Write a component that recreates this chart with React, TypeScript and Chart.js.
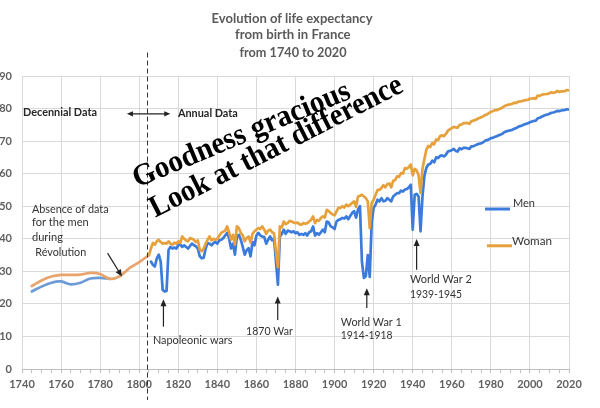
import React, { useEffect, useRef } from 'react';
import { Chart, registerables } from 'chart.js';
Chart.register(...registerables);

// ---------- DATA ----------
const decMenYears = [1745, 1750, 1755, 1760, 1765, 1770, 1775, 1780, 1785];
const decMenValues = [23.8, 25.3, 26.5, 26.9, 26.0, 26.5, 27.8, 28.0, 27.7];
const decWomenYears = [1745, 1750, 1755, 1760, 1765, 1770, 1775, 1780, 1785, 1790, 1795, 1800, 1805];
const decWomenValues = [25.5, 27.2, 28.4, 28.9, 28.9, 29.0, 29.5, 29.2, 27.7, 28.5, 31.0, 32.8, 35.0];

const MEN_ANNUAL_START = 1806;
const menAnnual = [
  33.0, 32.0, 31.5, 34.0,
  35.1, 33.0, 24.3, 23.8, 24.0, 36.5, 37.5, 37.0, 37.3, 37.0,
  38.0, 38.3, 37.5, 38.0, 37.5, 37.0, 37.8, 38.5, 38.0, 37.7,
  37.0, 34.6, 34.0, 34.2, 37.0, 38.7, 38.5, 38.0, 38.7, 39.0,
  38.5, 39.5, 39.7, 40.2, 41.0, 41.8, 40.2, 37.0, 38.5, 35.1,
  40.7, 41.2, 39.7, 37.5, 35.1, 36.5, 37.1, 34.6, 39.0, 38.0,
  41.0, 41.8, 41.0, 40.7, 40.5, 38.5, 39.7, 40.7, 39.5, 40.2,
  33.0, 25.9, 40.7, 41.5, 42.8, 41.5, 42.5, 42.3, 42.0, 42.3,
  41.7, 42.0, 41.2, 41.5, 41.2, 41.7, 41.0, 42.0, 42.3, 43.8,
  41.0, 41.7, 41.3, 42.0, 42.8, 42.0, 45.3, 45.0, 43.8, 43.5,
  43.0, 45.3, 45.8, 46.0, 46.4, 46.2, 46.9, 46.0, 47.0, 47.9,
  48.5, 46.5, 49.0, 50.0, 33.0, 28.0, 28.5, 35.0, 28.3, 45.0,
  49.5, 50.5, 52.0, 51.5, 52.5, 51.5, 51.7, 52.5, 52.0, 51.5,
  53.0, 53.5, 54.0, 54.0, 54.8, 54.5, 55.1, 55.3, 55.8, 56.6,
  42.8, 53.5, 53.8, 53.0, 42.3, 53.0, 59.5, 61.8, 62.8, 63.0,
  64.0, 63.5, 65.0, 64.8, 65.5, 65.6, 65.3, 65.8, 66.8, 67.0,
  67.2, 67.6, 67.0, 66.8, 67.8, 67.5, 67.9, 67.9, 67.8, 67.6,
  68.4, 68.4, 68.7, 69.0, 69.2, 69.3, 69.6, 70.1, 70.3, 70.5,
  70.9, 71.0, 71.3, 71.5, 71.8, 72.0, 72.3, 72.8, 73.0, 73.2,
  73.3, 73.5, 73.8, 74.0, 74.4, 74.6, 74.8, 75.1, 75.3, 75.5,
  75.8, 76.0, 76.2, 76.3, 77.0, 77.2, 77.5, 77.8, 78.0, 78.2,
  78.4, 78.7, 78.8, 79.0, 79.3, 79.2, 79.4, 79.5, 79.6, 79.8,
  79.7,
];

const WOMEN_ANNUAL_START = 1805;
const womenAnnual = [
  35.0, 37.0, 38.7, 38.2, 39.2,
  39.7, 39.0, 38.5, 38.7, 38.5, 39.2, 38.5, 38.2, 38.8, 38.5,
  39.2, 38.7, 40.7, 40.0, 39.5, 39.2, 40.2, 40.0, 39.7, 39.0,
  39.5, 36.6, 36.2, 37.0, 38.5, 39.7, 40.7, 39.5, 40.0, 39.7,
  40.0, 41.0, 41.8, 42.2, 42.5, 43.8, 42.0, 39.7, 41.2, 38.2,
  43.8, 43.3, 41.8, 41.0, 39.2, 40.2, 40.7, 38.8, 41.5, 42.3,
  42.8, 43.3, 43.0, 43.8, 42.8, 41.5, 42.5, 42.8, 42.0, 41.7,
  36.0, 31.3, 43.8, 43.5, 45.3, 44.5, 44.8, 45.5, 45.3, 45.0,
  44.8, 45.0, 44.5, 44.3, 44.8, 44.6, 44.8, 45.3, 45.8, 46.9,
  44.8, 45.8, 45.5, 46.4, 46.9, 46.5, 48.9, 48.5, 47.9, 47.5,
  47.2, 48.4, 49.5, 49.5, 50.0, 49.6, 50.5, 50.0, 50.5, 51.0,
  51.5, 49.8, 53.0, 53.2, 53.5, 53.0, 52.5, 51.5, 43.3, 51.0,
  52.0, 53.5, 55.0, 55.0, 55.6, 56.5, 55.8, 56.8, 57.0, 55.8,
  57.8, 58.0, 59.2, 59.0, 60.2, 60.0, 61.7, 61.5, 62.0, 62.8,
  59.5, 61.5, 61.0, 59.5, 54.0, 61.5, 64.5, 67.4, 68.5, 68.2,
  69.4, 69.0, 70.5, 70.3, 71.5, 71.8, 71.5, 72.2, 73.2, 73.6,
  74.0, 74.4, 74.2, 74.1, 75.0, 75.1, 75.5, 75.5, 75.6, 75.3,
  76.1, 76.3, 76.5, 76.8, 77.1, 77.3, 77.6, 78.0, 78.2, 78.6,
  79.0, 79.2, 79.5, 79.5, 79.8, 80.0, 80.3, 80.8, 81.0, 81.2,
  81.3, 81.5, 81.8, 81.7, 82.1, 82.2, 82.3, 82.5, 82.6, 82.7,
  83.0, 83.1, 83.2, 83.0, 84.0, 83.9, 84.2, 84.4, 84.4, 84.5,
  84.7, 85.0, 84.8, 85.0, 85.4, 85.1, 85.3, 85.3, 85.4, 85.7,
  85.6,
];

const X_MIN = 1740;
const X_MAX = 2020;
const Y_MIN = 0;
const Y_MAX = 90;

const TITLE_LINES = ['Evolution of life expectancy', 'from birth in France', 'from 1740 to 2020'];
const SERIES_NAMES = ['Men', 'Woman'];

// ---------- STYLE / ANNOTATIONS ----------
const BLUE = '#3b7bdc';
const ORANGE = '#e6a13c';
const BLUE_LIGHT = '#6d9bd6';
const ORANGE_LIGHT = '#e9a46c';
const TEXT = '#333333';
const AXIS_TEXT = '#5f5f5f';
const FONT = 'Lato, "Open Sans", sans-serif';

// [text, year, value, width]
const NOTES: [string, number, number, number][] = [
  ['Absence of data', 1745.1, 49.23, 76.6],
  ['for the men', 1745.1, 45.02, 56.7],
  ['during', 1745.1, 40.4, 31],
  ['Révolution', 1746.8, 35.9, 51],
  ['Napoleonic wars', 1807.0, 8.92, 79.6],
  ['1870 War', 1854.7, 11.78, 46.7],
  ['World War 1', 1903.2, 14.55, 61],
  ['1914-1918', 1903.2, 10.46, 51.6],
  ['World War 2', 1938.6, 27.6, 62],
  ['1939-1945', 1938.6, 23.08, 52],
];
// [x1, v1, x2, v2] arrow head at (x2, v2)
const ARROWS: [number, number, number, number][] = [
  [1783.8, 35.6, 1791.15, 28.4],
  [1812.4, 13.0, 1812.4, 21.45],
  [1870.9, 15.08, 1870.9, 22.25],
  [1916.5, 18.77, 1916.5, 24.83],
  [1942.0, 30.46, 1942.0, 39.9],
];

function fitText(ctx: CanvasRenderingContext2D, text: string, x: number, y: number, width: number, font: string, color: string, align: CanvasTextAlign = 'left') {
  ctx.save();
  ctx.font = font;
  ctx.fillStyle = color;
  ctx.textBaseline = 'middle';
  ctx.textAlign = align;
  const w = ctx.measureText(text).width || 1;
  ctx.translate(x, y);
  ctx.scale(width / w, 1);
  ctx.fillText(text, 0, 0);
  ctx.restore();
}

function arrowHead(ctx: CanvasRenderingContext2D, x1: number, y1: number, x2: number, y2: number, len = 7, half = 3) {
  const a = Math.atan2(y2 - y1, x2 - x1);
  ctx.beginPath();
  ctx.moveTo(x2, y2);
  ctx.lineTo(x2 - len * Math.cos(a) + half * Math.sin(a), y2 - len * Math.sin(a) - half * Math.cos(a));
  ctx.lineTo(x2 - len * Math.cos(a) - half * Math.sin(a), y2 - len * Math.sin(a) + half * Math.cos(a));
  ctx.closePath();
  ctx.fill();
}

const overlayPlugin = {
  id: 'overlay',
  afterDraw(chart: any) {
    const ctx: CanvasRenderingContext2D = chart.ctx;
    const xs = chart.scales.x;
    const ys = chart.scales.y;
    const px = (yr: number) => xs.getPixelForValue(yr);
    const py = (v: number) => ys.getPixelForValue(v);

    // title
    const titleW = [161, 115.7, 107];
    const titleX = [292, 292.8, 293];
    const titleY = [19, 35, 53];
    TITLE_LINES.forEach((t, i) => fitText(ctx, t, titleX[i], titleY[i], titleW[i], `bold 13px ${FONT}`, '#5a5a5a', 'center'));

    // dashed separator
    ctx.save();
    ctx.strokeStyle = '#333';
    ctx.lineWidth = 1;
    ctx.setLineDash([5, 3]);
    ctx.beginPath();
    ctx.moveTo(Math.round(px(1803.9)) + 0.5, py(97.2));
    ctx.lineTo(Math.round(px(1803.9)) + 0.5, py(-9.5));
    ctx.stroke();
    ctx.restore();

    // Decennial / Annual
    fitText(ctx, 'Decennial Data', px(1740.5), py(78.68), 74, `bold 11px ${FONT}`, '#262626');
    fitText(ctx, 'Annual Data', px(1819.8), py(78.46), 60, `bold 11px ${FONT}`, '#262626');
    ctx.save();
    ctx.strokeStyle = '#222';
    ctx.fillStyle = '#222';
    ctx.lineWidth = 1.2;
    const ax1 = px(1793.7), ax2 = px(1815.9), ay = py(78.37);
    ctx.beginPath();
    ctx.moveTo(ax1 + 3, ay);
    ctx.lineTo(ax2 - 3, ay);
    ctx.stroke();
    arrowHead(ctx, ax2, ay, ax1, ay, 6, 2.6);
    arrowHead(ctx, ax1, ay, ax2, ay, 6, 2.6);

    // annotation arrows
    ARROWS.forEach(([x1, v1, x2, v2]) => {
      const X1 = px(x1), Y1 = py(v1), X2 = px(x2), Y2 = py(v2);
      const a = Math.atan2(Y2 - Y1, X2 - X1);
      ctx.beginPath();
      ctx.moveTo(X1, Y1);
      ctx.lineTo(X2 - 5 * Math.cos(a), Y2 - 5 * Math.sin(a));
      ctx.stroke();
      arrowHead(ctx, X1, Y1, X2, Y2, 7, 3);
    });
    ctx.restore();

    // annotation text
    NOTES.forEach(([t, yr, v, w]) => fitText(ctx, t, px(yr), py(v), w, `12px ${FONT}`, TEXT));

    // legend
    ctx.save();
    ctx.lineWidth = 3;
    ctx.strokeStyle = BLUE;
    ctx.beginPath();
    ctx.moveTo(px(1977.0), py(49.14));
    ctx.lineTo(px(1989.8), py(49.14));
    ctx.stroke();
    ctx.strokeStyle = ORANGE;
    ctx.beginPath();
    ctx.moveTo(px(1978.0), py(37.85));
    ctx.lineTo(px(1990.8), py(37.85));
    ctx.stroke();
    ctx.restore();
    fitText(ctx, SERIES_NAMES[0], px(1991.3), py(51.08), 22, `12px ${FONT}`, TEXT);
    fitText(ctx, SERIES_NAMES[1], px(1990.8), py(39.17), 40, `12px ${FONT}`, TEXT);

    // rotated comment
    const rot: [string, number, number, number, number][] = [
      ['Goodness gracious', 1798.98, 55.69, -22.7, 233],
      ['Look at that difference', 1808.18, 46.46, -26.9, 280],
    ];
    rot.forEach(([t, yr, v, deg, w]) => {
      ctx.save();
      ctx.font = `bold 31px "Liberation Serif", "DejaVu Serif", serif`;
      ctx.fillStyle = '#000';
      ctx.textBaseline = 'alphabetic';
      ctx.textAlign = 'left';
      const m = ctx.measureText(t).width || 1;
      ctx.translate(px(yr), py(v));
      ctx.rotate((deg * Math.PI) / 180);
      ctx.scale(w / m, 1);
      ctx.fillText(t, 0, 0);
      ctx.restore();
    });
  },
};

export default function App() {
  const ref = useRef<HTMLCanvasElement | null>(null);

  useEffect(() => {
    document.body.style.margin = '0';
    const canvas = ref.current;
    if (!canvas) return;

    const decMen = decMenYears.map((y, i) => ({ x: y, y: decMenValues[i] }));
    const decWomen = decWomenYears.map((y, i) => ({ x: y, y: decWomenValues[i] }));
    const men = menAnnual.map((v, i) => ({ x: MEN_ANNUAL_START + i, y: v }));
    const women = womenAnnual.map((v, i) => ({ x: WOMEN_ANNUAL_START + i, y: v }));

    const chart = new Chart(canvas, {
      type: 'line',
      data: {
        datasets: [
          { label: SERIES_NAMES[1] + ' decennial', data: decWomen, borderColor: ORANGE_LIGHT, borderWidth: 2.7, pointRadius: 0, tension: 0.35, fill: false },
          { label: SERIES_NAMES[0] + ' decennial', data: decMen, borderColor: BLUE_LIGHT, borderWidth: 2.7, pointRadius: 0, tension: 0.35, fill: false },
          { label: SERIES_NAMES[1], data: women, borderColor: ORANGE, borderWidth: 2.7, pointRadius: 0, tension: 0, fill: false },
          { label: SERIES_NAMES[0], data: men, borderColor: BLUE, borderWidth: 2.7, pointRadius: 0, tension: 0, fill: false },
        ],
      },
      options: {
        animation: false,
        responsive: false,
        devicePixelRatio: 1,
        layout: { padding: { top: 76, right: 31, bottom: 0, left: 0 } },
        plugins: { legend: { display: false }, title: { display: false }, tooltip: { enabled: false } },
        elements: { line: { borderJoinStyle: 'round', borderCapStyle: 'round' } },
        scales: {
          x: {
            type: 'linear',
            min: X_MIN,
            max: X_MAX,
            afterFit: (s: any) => { s.height = 39; },
            ticks: {
              stepSize: 5,
              autoSkip: false,
              maxRotation: 0,
              padding: 5,
              color: AXIS_TEXT,
              font: { family: FONT, size: 11, weight: 'bold' },
              callback: (v: any) => (Number(v) % 20 === 0 ? String(v) : ''),
            },
            grid: {
              color: (c: any) => (c.tick && c.tick.value % 20 === 0 ? '#d9d9d9' : 'rgba(0,0,0,0)'),
              tickColor: '#bfbfbf',
              tickLength: 4,
              drawTicks: true,
            },
            border: { display: true, color: '#bfbfbf' },
          },
          y: {
            min: Y_MIN,
            max: Y_MAX,
            afterFit: (s: any) => { s.width = 22; },
            ticks: {
              stepSize: 10,
              padding: 10,
              color: AXIS_TEXT,
              font: { family: FONT, size: 11, weight: 'bold' },
            },
            grid: { color: '#d9d9d9', drawTicks: false },
            border: { display: false },
          },
        },
      },
      plugins: [overlayPlugin],
    } as any);

    return () => chart.destroy();
  }, []);

  return (
    <div style={{ width: 600, height: 408, position: 'relative', background: '#fff' }}>
      <canvas ref={ref} width={600} height={408} style={{ display: 'block' }} />
    </div>
  );
}
